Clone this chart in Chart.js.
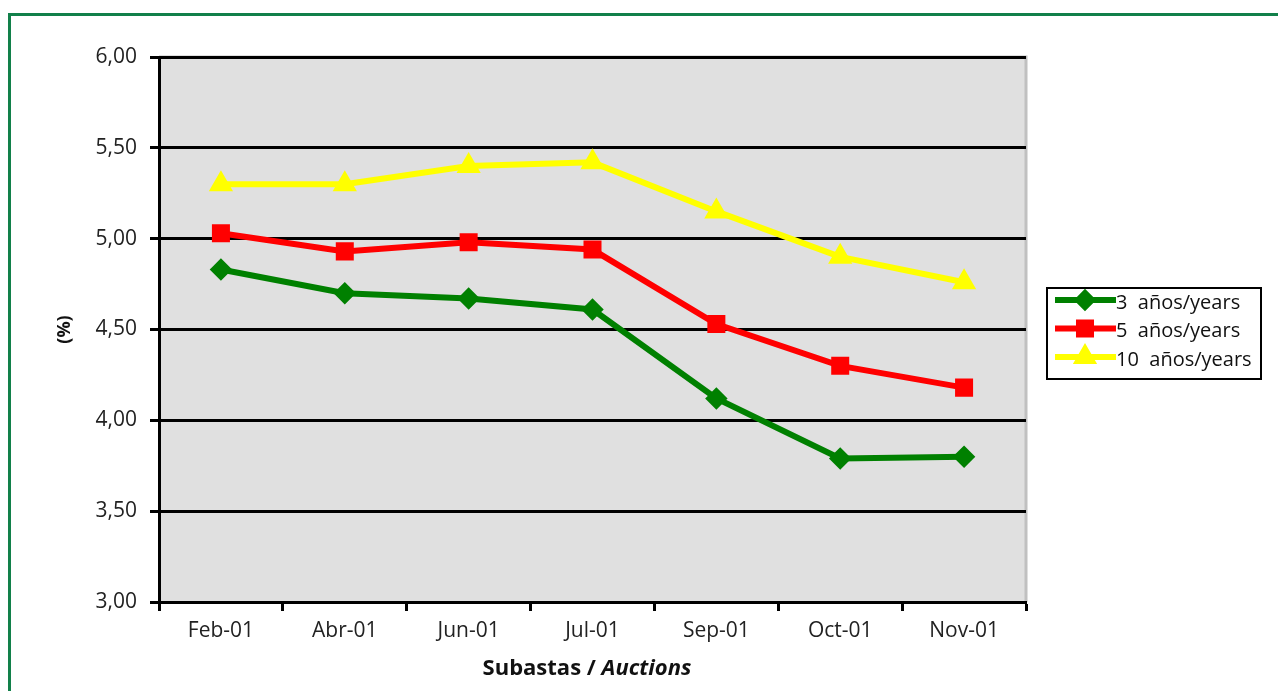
<!DOCTYPE html>
<html>
<head>
<meta charset="utf-8">
<script src="https://cdn.jsdelivr.net/npm/chart.js@4.4.0/dist/chart.umd.min.js"></script>
<style>
  html, body { margin: 0; padding: 0; background: #fff; }
  #wrap { width: 1278px; height: 691px; position: relative; }
</style>
</head>
<body>
<div id="wrap"><canvas id="myChart" width="1278" height="691"></canvas></div>
<script>
// datos de las subastas
var categories = ['Feb-01', 'Abr-01', 'Jun-01', 'Jul-01', 'Sep-01', 'Oct-01', 'Nov-01'];
var seriesNames = ['3 años/years', '5 años/years', '10 años/years'];
var anos3 = [4.83, 4.70, 4.67, 4.61, 4.12, 3.79, 3.80];
var anos5 = [5.03, 4.93, 4.98, 4.94, 4.53, 4.30, 4.18];
var anos10 = [5.30, 5.30, 5.40, 5.42, 5.15, 4.90, 4.76];
var yTicks = [3.00, 3.50, 4.00, 4.50, 5.00, 5.50, 6.00];

var FONT = '"Open Sans", Lato, sans-serif';

var frameAndBg = {
  id: 'frameAndBg',
  beforeDraw: function(chart) {
    var ctx = chart.ctx, a = chart.chartArea;
    ctx.save();
    ctx.fillStyle = '#fff';
    ctx.fillRect(0, 0, chart.width, chart.height);
    // marco verde
    ctx.strokeStyle = '#12804a';
    ctx.lineWidth = 3;
    ctx.beginPath();
    ctx.moveTo(9.5, chart.height + 5);
    ctx.lineTo(9.5, 14.5);
    ctx.lineTo(chart.width + 5, 14.5);
    ctx.stroke();
    // fondo gris del area
    ctx.fillStyle = '#e0e0e0';
    ctx.fillRect(a.left, a.top, a.right - a.left, a.bottom - a.top);
    ctx.strokeStyle = '#c0c0c0';
    ctx.lineWidth = 3;
    ctx.beginPath();
    ctx.moveTo(a.left, a.top);
    ctx.lineTo(a.right, a.top);
    ctx.lineTo(a.right, a.bottom);
    ctx.stroke();
    ctx.restore();
  },
  afterDraw: function(chart) {
    var ctx = chart.ctx, a = chart.chartArea;
    ctx.save();
    // titulo eje y
    ctx.fillStyle = '#111';
    ctx.font = 'bold 18px ' + FONT;
    ctx.translate(65, (a.top + a.bottom) / 2);
    ctx.rotate(-Math.PI / 2);
    ctx.textAlign = 'center';
    ctx.textBaseline = 'middle';
    ctx.fillText('(%)', 0, 0);
    ctx.restore();

    // titulo eje x
    ctx.save();
    ctx.fillStyle = '#111';
    ctx.textBaseline = 'middle';
    var t1 = 'Subastas / ', t2 = 'Auctions';
    ctx.font = 'bold 22px ' + FONT;
    var w1 = ctx.measureText(t1).width;
    ctx.font = 'italic bold 22px ' + FONT;
    var w2 = ctx.measureText(t2).width;
    var x0 = 587 - (w1 + w2) / 2;
    ctx.font = 'bold 22px ' + FONT;
    ctx.fillText(t1, x0, 669);
    ctx.font = 'italic bold 22px ' + FONT;
    ctx.fillText(t2, x0 + w1, 669);
    ctx.restore();

    // leyenda
    ctx.save();
    var lx = 1047, ly = 288, lw = 214, lh = 91;
    ctx.fillStyle = '#fff';
    ctx.fillRect(lx, ly, lw, lh);
    ctx.strokeStyle = '#000';
    ctx.lineWidth = 2;
    ctx.strokeRect(lx, ly, lw, lh);
    ctx.font = '20px ' + FONT;
    ctx.textBaseline = 'middle';
    chart.data.datasets.forEach(function(ds, i) {
      var cy = ly + 12 + i * 28.5;
      ctx.strokeStyle = ds.borderColor;
      ctx.lineWidth = 6;
      ctx.beginPath();
      ctx.moveTo(lx + 8, cy);
      ctx.lineTo(lx + 69, cy);
      ctx.stroke();
      Chart.helpers.drawPoint(ctx, {
        pointStyle: ds.pointStyle, radius: ds.pointRadius, rotation: 0,
        borderWidth: 1
      }, lx + 38, cy);
      ctx.fillStyle = ds.borderColor;
      ctx.strokeStyle = ds.borderColor;
      ctx.fill();
      ctx.fillStyle = '#111';
      ctx.fillText(ds.label.replace(' ', '  '), lx + 69, cy + 3);
    });
    ctx.restore();
  }
};

var ctx = document.getElementById('myChart').getContext('2d');
new Chart(ctx, {
  type: 'line',
  data: {
    labels: categories,
    datasets: [
      { label: seriesNames[0], data: anos3, borderColor: '#008000', backgroundColor: '#008000',
        borderWidth: 6, pointStyle: 'rectRot', pointRadius: 7, pointHoverRadius: 7, tension: 0 },
      { label: seriesNames[1], data: anos5, borderColor: '#ff0000', backgroundColor: '#ff0000',
        borderWidth: 6, pointStyle: 'rect', pointRadius: 8.5, pointHoverRadius: 8.5, tension: 0 },
      { label: seriesNames[2], data: anos10, borderColor: '#ffff00', backgroundColor: '#ffff00',
        borderWidth: 6, pointStyle: 'triangle', pointRadius: 8, pointHoverRadius: 8, tension: 0 }
    ]
  },
  options: {
    responsive: false,
    animation: false,
    devicePixelRatio: 1,
    layout: { padding: { left: 0, top: 57, right: 252, bottom: 0 } },
    plugins: { legend: { display: false }, tooltip: { enabled: false } },
    scales: {
      x: {
        offset: true,
        grid: { offset: true, drawOnChartArea: false, drawTicks: true, tickLength: 9, tickWidth: 3, tickColor: '#000' },
        border: { color: '#000', width: 3 },
        ticks: { color: '#222', font: { family: FONT, size: 21 }, padding: 7, maxRotation: 0 },
        afterFit: function(s) { s.height = 89; }
      },
      y: {
        min: 3, max: 6,
        afterBuildTicks: function(s) { s.ticks = yTicks.map(function(v) { return { value: v }; }); },
        grid: { color: function(c) { return c.tick && c.tick.value === 3 ? 'rgba(0,0,0,0)' : '#000'; },
                lineWidth: 3, tickLength: 9, tickWidth: 3, tickColor: '#000' },
        border: { color: '#000', width: 3 },
        ticks: { color: '#222', font: { family: FONT, size: 21 }, padding: 13,
                 callback: function(v) { return Number(v).toFixed(2).replace('.', ','); } },
        afterFit: function(s) { s.width = 159; }
      }
    }
  },
  plugins: [frameAndBg]
});
</script>
</body>
</html>
